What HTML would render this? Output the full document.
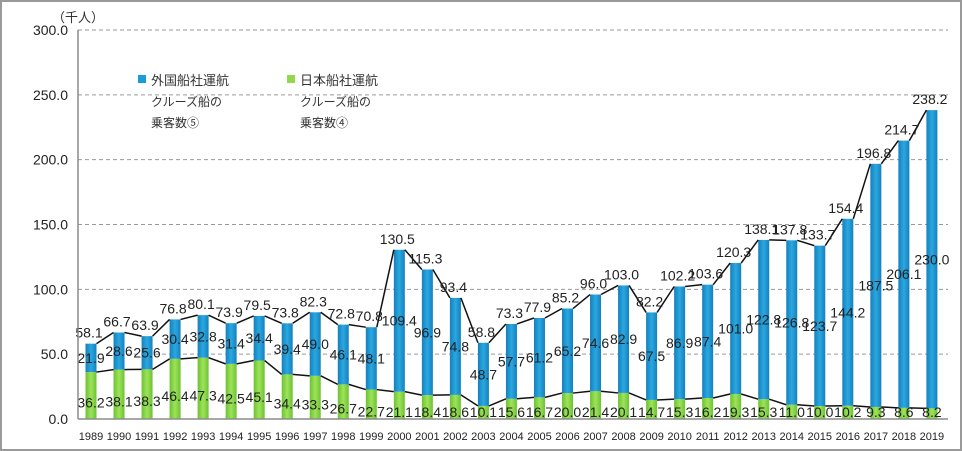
<!DOCTYPE html>
<html><head><meta charset="utf-8"><style>
body{margin:0;background:#fff;}
svg{display:block;font-family:"Liberation Sans","Noto Sans CJK JP",sans-serif;}
</style></head><body>
<svg id="chart" width="962" height="451" viewBox="0 0 962 451">
<defs>
<linearGradient id="gb" x1="0" y1="0" x2="1" y2="0"><stop offset="0" stop-color="#1580bd"/><stop offset="0.5" stop-color="#2aa8e0"/><stop offset="1" stop-color="#1580bd"/></linearGradient>
<linearGradient id="gg" x1="0" y1="0" x2="1" y2="0"><stop offset="0" stop-color="#6cc232"/><stop offset="0.5" stop-color="#9ee35a"/><stop offset="1" stop-color="#6cc232"/></linearGradient>
</defs>
<rect x="1" y="1" width="960" height="449" fill="#fff" stroke="#9a9a9a" stroke-width="2"/>
<g id="grid"></g><g id="bars"></g><g id="lines"></g><g id="labels"></g>
<line x1="78" y1="30" x2="78" y2="419" stroke="#8c8c8c" stroke-width="1.5"/>
<line x1="78" y1="419" x2="948" y2="419" stroke="#8c8c8c" stroke-width="1.5"/>
<text x="52" y="22" font-size="13" fill="#333">（千人）</text>
<g>
<g>
<rect x="138" y="75" width="8" height="8" fill="#1a9cd8"/>
<text x="151" y="85" font-size="13" fill="#333">外国船社運航</text>
<text x="151" y="106" font-size="12" fill="#333">クルーズ船の</text>
<text x="151" y="127" font-size="12" fill="#333">乗客数⑤</text></g>
<g>
<rect x="287" y="75" width="8" height="8" fill="#8fd94a"/>
<text x="300" y="85" font-size="13" fill="#333">日本船社運航</text>
<text x="300" y="106" font-size="12" fill="#333">クルーズ船の</text>
<text x="300" y="127" font-size="12" fill="#333">乗客数④</text></g>
</g>
</svg>
<script>
const years=[1989,1990,1991,1992,1993,1994,1995,1996,1997,1998,1999,2000,2001,2002,2003,2004,2005,2006,2007,2008,2009,2010,2011,2012,2013,2014,2015,2016,2017,2018,2019];
const japanValues=[36.2,38.1,38.3,46.4,47.3,42.5,45.1,34.4,33.3,26.7,22.7,21.1,18.4,18.6,10.1,15.6,16.7,20.0,21.4,20.1,14.7,15.3,16.2,19.3,15.3,11.0,10.0,10.2,9.3,8.6,8.2];
const foreignValues=[21.9,28.6,25.6,30.4,32.8,31.4,34.4,39.4,49.0,46.1,48.1,109.4,96.9,74.8,48.7,57.7,61.2,65.2,74.6,82.9,67.5,86.9,87.4,101.0,122.8,126.8,123.7,144.2,187.5,206.1,230.0];
const totalValues=[58.1,66.7,63.9,76.8,80.1,73.9,79.5,73.8,82.3,72.8,70.8,130.5,115.3,93.4,58.8,73.3,77.9,85.2,96.0,103.0,82.2,102.2,103.6,120.3,138.1,137.8,133.7,154.4,196.8,214.7,238.2];
const yTicks=[0,50,100,150,200,250,300];
const NS="http://www.w3.org/2000/svg";
const y0=419,y1=30,ymax=300;
const yS=v=>y0-(y0-y1)*v/ymax;
const x0=91,step=28.03,bw=11;
const xS=i=>x0+i*step;
function mk(t,a,p){const e=document.createElementNS(NS,t);for(const k in a)e.setAttribute(k,a[k]);p.appendChild(e);return e;}
const grid=document.getElementById('grid'),bars=document.getElementById('bars'),lines=document.getElementById('lines'),labels=document.getElementById('labels');
yTicks.forEach(v=>{
 if(v>0){const l=mk('line',{x1:78,x2:948,y1:yS(v),y2:yS(v),stroke:'#9a9a9a','stroke-dasharray':'4,3'},grid);
 
 }
 const t=mk('text',{x:68,y:yS(v)+5,'font-size':14,'text-anchor':'end',fill:'#222'},grid);t.textContent=v.toFixed(1);
 
 
});
years.forEach((yr,i)=>{
 const cx=xS(i),g=japanValues[i],f=foreignValues[i],tot=totalValues[i];
 const gb=mk('rect',{x:cx-bw/2,y:yS(g),width:bw,height:y0-yS(g),fill:'url(#gg)'},bars);
 
 
 const fb=mk('rect',{x:cx-bw/2,y:yS(g+f),width:bw,height:yS(g)-yS(g+f),fill:'url(#gb)'},bars);
 
 
 const xl=mk('text',{x:cx,y:440,'font-size':11,'text-anchor':'middle',fill:'#222'},labels);xl.textContent=yr;
 
 
 const tl=mk('text',{x:cx-2,y:yS(tot)-6,'font-size':14,'text-anchor':'middle',fill:'#222'},labels);tl.textContent=tot.toFixed(1);
 
 
 const fl=mk('text',{x:cx,y:(yS(g)+yS(g+f))/2+5,'font-size':14,'text-anchor':'middle',fill:'#222'},labels);fl.textContent=f.toFixed(1);
 
 
 const gl=mk('text',{x:cx,y:Math.min((yS(g)+y0)/2+12,y0-2),'font-size':14,'text-anchor':'middle',fill:'#222'},labels);gl.textContent=g.toFixed(1);
 
 
 if(i<years.length-1){
  const l1=mk('line',{x1:cx+bw/2,y1:yS(tot),x2:xS(i+1)-bw/2,y2:yS(totalValues[i+1]),stroke:'#111','stroke-width':1.5},lines);
  
  
  const l2=mk('line',{x1:cx+bw/2,y1:yS(g),x2:xS(i+1)-bw/2,y2:yS(japanValues[i+1]),stroke:'#111','stroke-width':1.5},lines);
  
  
 }
});
</script>
</body></html>
